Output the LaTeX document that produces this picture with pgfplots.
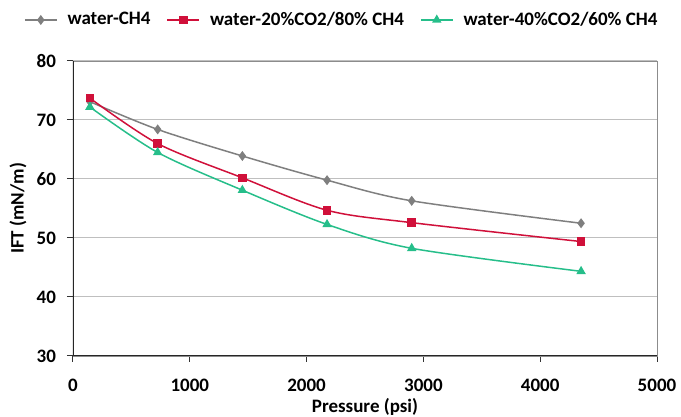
\documentclass[border=0pt]{standalone}
\usepackage{fontspec}
\setmainfont{Carlito}
\usepackage{pgfplots}
\pgfplotsset{compat=1.18}
\definecolor{ch4gray}{HTML}{7F7F7F}
\definecolor{co2red}{HTML}{D0103A}
\definecolor{co2green}{HTML}{26BE8A}

\begin{document}
\begin{tikzpicture}
\begin{axis}[name=ax,
 scale only axis,width=292pt,height=147.5pt,
 xmin=0,xmax=5000,ymin=30,ymax=80,
 xtick={0,1000,...,5000},ytick={30,40,...,80},
 tick pos=left,tick align=outside,major tick length=3pt,
 tick style={black!80,line width=0.5pt},
 axis line style={black!45},
 ymajorgrids,grid style={black!25,line width=0.5pt},
 scaled x ticks=false,
 /pgf/number format/assume math mode=true,
 /pgf/number format/set thousands separator={},
 tick label style={font=\fontsize{9.5}{11}\selectfont\bfseries},
 xlabel={Pressure (psi)},ylabel={IFT (mN/m)},
 every axis x label/.style={at={(axis description cs:0.5,-0.173)},anchor=center,
   font=\fontsize{9.5}{11}\selectfont\bfseries},
 every axis y label/.style={at={(axis description cs:-0.094,0.5)},rotate=90,anchor=center,
   font=\fontsize{9.5}{11}\selectfont\bfseries},
 xticklabel style={anchor=center,yshift=-11.5pt},
 yticklabel style={anchor=east,xshift=-2pt},
 legend style={font=\fontsize{9.5}{11}\selectfont\bfseries,draw=none,fill=none,
   at={(axis description cs:0.462,1.139)},anchor=center,legend columns=3,
   /tikz/every odd column/.append style={column sep=3pt},
   /tikz/every even column/.append style={column sep=6pt}},
 legend image code/.code={\draw[mark repeat=2,mark phase=2,#1] plot coordinates {(0pt,0pt) (8pt,0pt) (16pt,0pt)};},
]
\addplot[ch4gray,line width=0.75pt,smooth,mark=diamond*,mark size=1.9pt,mark options={fill=ch4gray}]
 coordinates {(145,73.1) (725,68.4) (1450,63.9) (2175,59.8) (2900,56.3) (4350,52.5)};
\addlegendentry{water-CH4}
\addplot[co2red,line width=0.75pt,smooth,mark=square*,mark size=1.75pt,mark options={fill=co2red}]
 coordinates {(145,73.7) (725,66.0) (1450,60.2) (2175,54.7) (2900,52.6) (4350,49.4)};
\addlegendentry{water-20\%CO2/80\% CH4}
\addplot[co2green,line width=0.75pt,smooth,mark=triangle*,mark size=2pt,mark options={fill=co2green}]
 coordinates {(145,72.2) (725,64.5) (1450,58.1) (2175,52.3) (2900,48.25) (4350,44.35)};
\addlegendentry{water-40\%CO2/60\% CH4}
\draw[black!85,line width=0.6pt] (rel axis cs:0,1) -- (rel axis cs:0,0) -- (rel axis cs:1,0);
\end{axis}
\pgfresetboundingbox
\path ([shift={(-36.5pt,-30.5pt)}]ax.south west) rectangle ([shift={(12pt,30.5pt)}]ax.north east);
\end{tikzpicture}
\end{document}
